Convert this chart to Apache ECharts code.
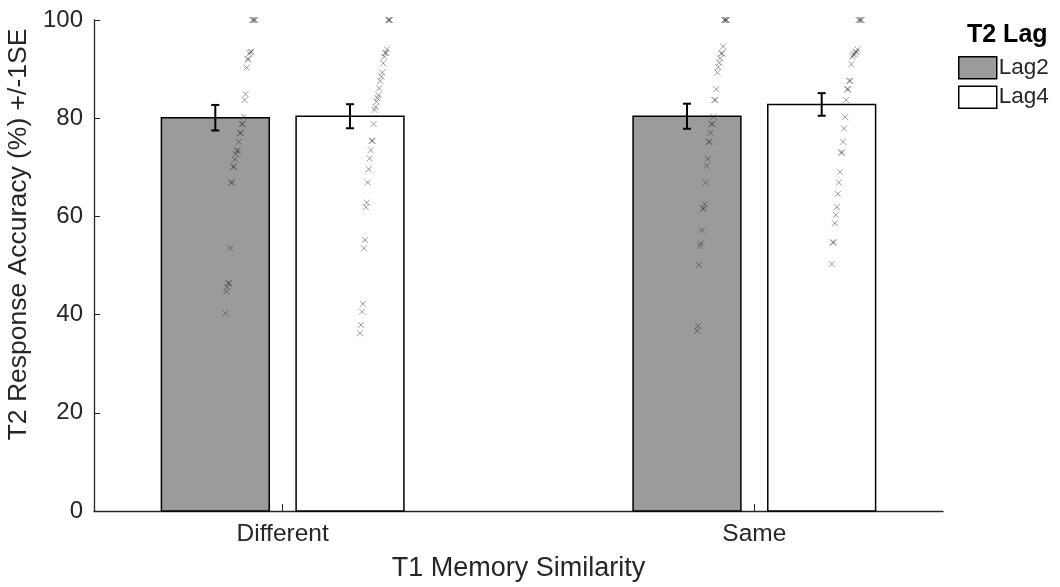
<!DOCTYPE html>
<html>
<head>
<meta charset="utf-8">
<script src="https://cdn.jsdelivr.net/npm/echarts@6/dist/echarts.min.js"></script>
<style>
  html, body { margin: 0; padding: 0; background: #fff; }
  #chart { width: 1060px; height: 587px; }
</style>
</head>
<body>
<div id="chart"></div>
<script>
// Conditions on the x axis and the two lag groups
const categories = ['Different', 'Same'];
const lags = ['Lag2', 'Lag4'];

// Group means (%) and standard errors, per category
const meanLag2 = [80.1, 80.4];
const meanLag4 = [80.4, 82.8];
const seLag2 = [2.6, 2.55];
const seLag4 = [2.45, 2.3];

// Individual participant accuracies (%), per cell
const diffLag2 = [40.3, 44.7, 45.6, 46.4, 46.4, 53.5, 66.9, 66.9, 70.1, 70.1, 71.6, 72.7, 73.4, 73.4, 75.2, 77.0, 77.0, 78.8, 78.8, 80.3, 83.7, 84.9, 90.3, 92.0, 92.0, 93.2, 93.5, 93.5, 100, 100, 100, 100];
const diffLag4 = [36.2, 37.9, 40.6, 42.2, 53.5, 55.2, 61.9, 62.8, 66.9, 69.6, 71.8, 73.5, 75.4, 75.4, 78.8, 81.7, 82.3, 83.4, 84.1, 84.7, 86.1, 87.6, 88.5, 89.3, 91.2, 92.5, 93.3, 93.3, 94.0, 100, 100, 100];
const sameLag2 = [36.7, 37.7, 50.1, 54.0, 54.5, 57.2, 61.6, 61.6, 62.5, 66.9, 70.3, 71.7, 75.2, 75.2, 77.0, 78.8, 78.8, 80.3, 83.7, 83.7, 85.9, 89.3, 90.4, 91.3, 92.2, 93.2, 93.2, 94.6, 100, 100, 100, 100];
const sameLag4 = [50.3, 54.7, 54.7, 58.6, 60.3, 61.9, 64.6, 66.9, 69.1, 73.0, 73.0, 75.2, 77.9, 80.2, 83.7, 85.9, 85.9, 87.6, 87.6, 91.0, 92.5, 92.9, 93.1, 93.5, 93.5, 94.0, 100, 100, 100, 100];

// Y axis ticks
const yTicks = [0, 20, 40, 60, 80, 100];

// Grouped-bar geometry in x-axis units (categories sit at 1 and 2)
const BAR_OFFSET = 0.1428;
const BAR_WIDTH = 0.2286;
const FONT = '"Liberation Sans", Arial, Helvetica, sans-serif';
const TEXT = '#262626';
const LAG2_FILL = '#9b9b9b';

const cellPoints = [
  { cat: 0, lag: 0, values: diffLag2 },
  { cat: 0, lag: 1, values: diffLag4 },
  { cat: 1, lag: 0, values: sameLag2 },
  { cat: 1, lag: 1, values: sameLag4 }
];

function barCenter(cat, lag) {
  return (cat + 1) + (lag === 0 ? -BAR_OFFSET : BAR_OFFSET);
}

// Bars: [categoryIndex, mean]
function barSeries(name, lag, means, fill) {
  return {
    name: name,
    type: 'custom',
    z: 2,
    itemStyle: { color: fill, borderColor: '#000', borderWidth: 1.5 },
    data: means.map((m, i) => [i, m]),
    renderItem: function (params, api) {
      const c = barCenter(api.value(0), lag);
      const tl = api.coord([c - BAR_WIDTH / 2, api.value(1)]);
      const br = api.coord([c + BAR_WIDTH / 2, 0]);
      return {
        type: 'rect',
        shape: { x: tl[0], y: tl[1], width: br[0] - tl[0], height: br[1] - tl[1] },
        style: { fill: fill, stroke: '#000', lineWidth: 1.5 }
      };
    }
  };
}

// Error bars: [categoryIndex, mean, se]
function errorSeries(lag, means, ses) {
  return {
    type: 'custom',
    z: 4,
    silent: true,
    data: means.map((m, i) => [i, m, ses[i]]),
    renderItem: function (params, api) {
      const c = barCenter(api.value(0), lag);
      const hi = api.coord([c, api.value(1) + api.value(2)]);
      const lo = api.coord([c, api.value(1) - api.value(2)]);
      const cap = 4;
      const st = { stroke: '#000', lineWidth: 2 };
      return {
        type: 'group',
        children: [
          { type: 'line', shape: { x1: hi[0], y1: hi[1], x2: lo[0], y2: lo[1] }, style: st },
          { type: 'line', shape: { x1: hi[0] - cap, y1: hi[1], x2: hi[0] + cap, y2: hi[1] }, style: st },
          { type: 'line', shape: { x1: lo[0] - cap, y1: lo[1], x2: lo[0] + cap, y2: lo[1] }, style: st }
        ]
      };
    }
  };
}

// Individual points: sorted by value, spread rightwards by rank beside each bar
const pointData = [];
cellPoints.forEach(cell => {
  const sorted = cell.values.slice().sort((a, b) => a - b);
  const n = sorted.length;
  sorted.forEach((v, r) => {
    pointData.push([cell.cat, cell.lag, v, r / (n - 1)]);
  });
});

const pointSeries = {
  type: 'custom',
  z: 3,
  silent: true,
  data: pointData,
  renderItem: function (params, api) {
    const c = barCenter(api.value(0), api.value(1));
    const p = api.coord([c, api.value(2)]);
    const x = p[0] + 10 + api.value(3) * 30;
    const y = p[1];
    const h = 3;
    const st = { stroke: 'rgba(40,40,40,0.45)', lineWidth: 1 };
    return {
      type: 'group',
      children: [
        { type: 'line', shape: { x1: x - h, y1: y - h, x2: x + h, y2: y + h }, style: st },
        { type: 'line', shape: { x1: x - h, y1: y + h, x2: x + h, y2: y - h }, style: st }
      ]
    };
  }
};

const chart = echarts.init(document.getElementById('chart'), null, { renderer: 'canvas' });

chart.setOption({
  animation: false,
  backgroundColor: '#fff',
  textStyle: { fontFamily: FONT },
  grid: { left: 94, right: 117, top: 20, bottom: 76, containLabel: false, outerBoundsMode: 'none' },
  title: {
    text: 'T2 Lag',
    left: 967,
    top: 23,
    padding: 0,
    textStyle: { fontFamily: FONT, fontWeight: 'bold', fontSize: 25, color: '#000' }
  },
  legend: {
    orient: 'vertical',
    left: 958,
    top: 56,
    padding: 0,
    itemWidth: 38,
    itemHeight: 22,
    itemGap: 6,
    icon: 'rect',
    textStyle: { fontFamily: FONT, fontSize: 22.5, color: TEXT, padding: [0, 0, 0, -3] },
    data: [
      { name: lags[0], itemStyle: { color: LAG2_FILL, borderColor: '#000', borderWidth: 1.5 } },
      { name: lags[1], itemStyle: { color: '#fff', borderColor: '#000', borderWidth: 1.5 } }
    ]
  },
  xAxis: {
    type: 'value',
    min: 0.6,
    max: 2.4,
    name: 'T1 Memory Similarity',
    nameLocation: 'middle',
    nameGap: 44,
    nameTextStyle: { fontFamily: FONT, fontSize: 27, color: TEXT },
    axisLine: { show: true, onZero: false, lineStyle: { color: '#262626', width: 1.3 } },
    axisTick: { show: true, inside: true, length: 7, customValues: [1, 2], lineStyle: { color: '#262626' } },
    axisLabel: {
      customValues: [1, 2],
      margin: 11,
      fontFamily: FONT,
      fontSize: 24.5,
      color: TEXT,
      formatter: v => categories[Math.round(v) - 1] || ''
    },
    splitLine: { show: false }
  },
  yAxis: {
    type: 'value',
    min: yTicks[0],
    max: yTicks[yTicks.length - 1],
    interval: yTicks[1] - yTicks[0],
    name: 'T2 Response Accuracy (%) +/-1SE',
    nameLocation: 'middle',
    nameGap: 51,
    // left padding lifts the rotated title a little above the axis centre
    nameTextStyle: { fontFamily: FONT, fontSize: 26.5, color: TEXT, padding: [0, 0, 0, 62] },
    axisLine: { show: true, lineStyle: { color: '#262626', width: 1.3 } },
    axisTick: { show: true, inside: true, length: 6, lineStyle: { color: '#262626' } },
    axisLabel: { margin: 11, fontFamily: FONT, fontSize: 24, color: TEXT },
    splitLine: { show: false }
  },
  series: [
    barSeries(lags[0], 0, meanLag2, LAG2_FILL),
    barSeries(lags[1], 1, meanLag4, '#ffffff'),
    pointSeries,
    errorSeries(0, meanLag2, seLag2),
    errorSeries(1, meanLag4, seLag4)
  ]
});
</script>
</body>
</html>
